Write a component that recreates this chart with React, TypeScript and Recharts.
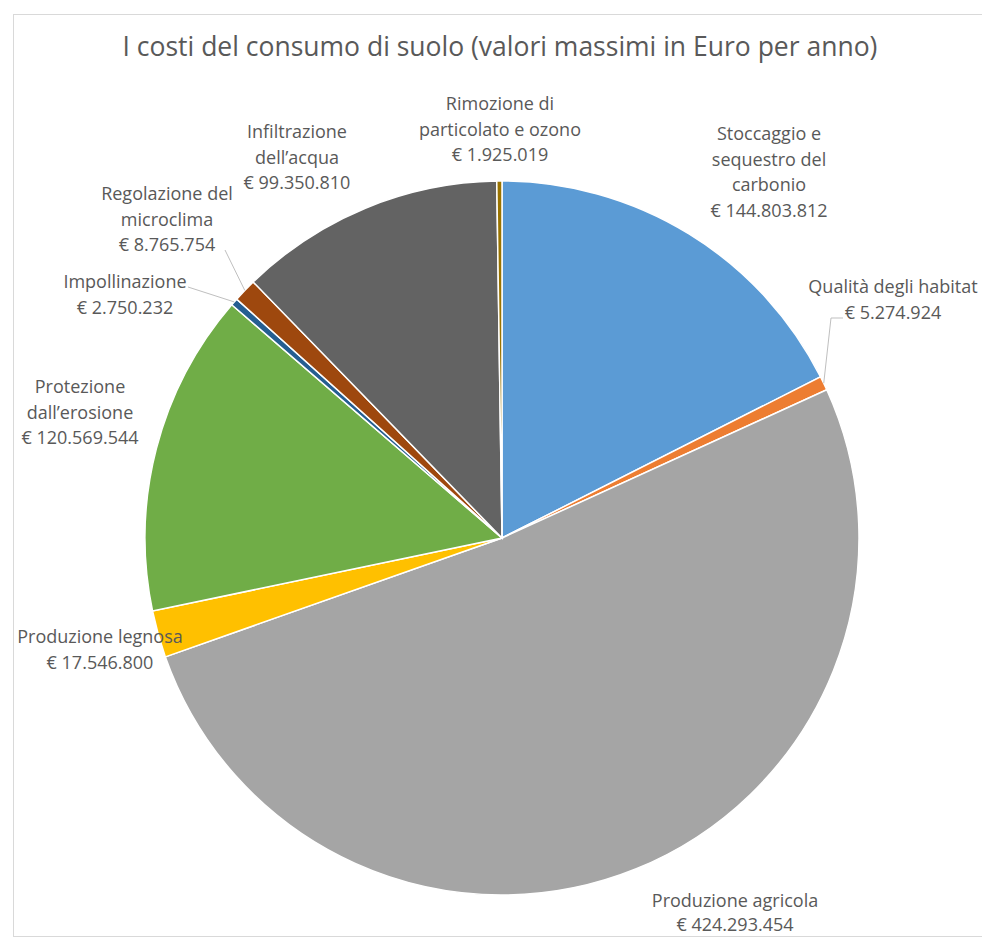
import { Pie, PieChart, Cell } from 'recharts';

const categories = [
  'Stoccaggio e\nsequestro del\ncarbonio',
  'Qualità degli habitat',
  'Produzione agricola',
  'Produzione legnosa',
  'Protezione\ndall’erosione',
  'Impollinazione',
  'Regolazione del\nmicroclima',
  'Infiltrazione\ndell’acqua',
  'Rimozione di\nparticolato e ozono'
];

const values = [
  144803812, 5274924, 424293454, 17546800, 120569544, 2750232, 8765754, 99350810, 1925019
];

const colors = [
  '#5B9BD5',
  '#ED7D31',
  '#A5A5A5',
  '#FFC000',
  '#70AD47',
  '#255E91',
  '#9E480E',
  '#636363',
  '#997300'
];

const title = 'I costi del consumo di suolo (valori massimi in Euro per anno)';

// label placement, relative to the pie centre: first line centre
const labelOffsets = [
  [267, -405],
  [391, -252],
  [233, 362],
  [-402, 98],
  [-422, -152],
  [-377, -257],
  [-335, -345],
  [-205, -407],
  [-2, -435]
];

// leader lines: start point (and optional elbow), relative to centre
const leaders: Record<number, number[][]> = {
  1: [[341, -220], [329, -220]],
  5: [[-314, -251]],
  6: [[-277, -288]]
};

const data = categories.map((name, i) => ({ name, value: values[i] }));

const formatEuro = (v: number) =>
  '€ ' + String(v).replace(/\B(?=(\d{3})+(?!\d))/g, '.');

const RAD = Math.PI / 180;
const FONT = '"Open Sans", Lato, sans-serif';
const TEXT = '#595959';
const LINE_H = 25.5;

const renderLabel = (props: any) => {
  const { cx, cy, midAngle, outerRadius, index } = props;
  const [dx, dy] = labelOffsets[index];
  const lines = [...categories[index].split('\n'), formatEuro(values[index])];
  const x = cx + dx;
  const y = cy + dy;
  const lead = leaders[index];
  const lh = index === 2 ? 23.5 : LINE_H;
  let path: string | null = null;
  if (lead) {
    const ex = cx + Math.cos(-midAngle * RAD) * outerRadius;
    const ey = cy + Math.sin(-midAngle * RAD) * outerRadius;
    path =
      lead.map((p, k) => `${k === 0 ? 'M' : 'L'}${cx + p[0]},${cy + p[1]}`).join(' ') +
      ` L${ex},${ey}`;
  }
  return (
    <g key={`lbl-${index}`}>
      {path && <path d={path} stroke="#bfbfbf" strokeWidth={1} fill="none" />}
      {lines.map((t, k) => (
        <text
          key={k}
          x={x}
          y={y + k * lh}
          textAnchor="middle"
          dominantBaseline="central"
          fill={TEXT}
          fontSize={18}
          fontFamily={FONT}
        >
          {t}
        </text>
      ))}
    </g>
  );
};

export default function App() {
  return (
    <div
      style={{
        position: 'absolute',
        left: 0,
        top: 0,
        width: 982,
        height: 938,
        overflow: 'hidden',
        background: '#fff'
      }}
    >
      <div
        style={{
          position: 'absolute',
          left: 13,
          top: 14,
          width: 990,
          height: 921,
          border: '1px solid #d9d9d9'
        }}
      />
      <div
        style={{
          position: 'absolute',
          left: 0,
          top: 28,
          width: 1000,
          textAlign: 'center',
          fontFamily: FONT,
          fontSize: 26.5,
          color: TEXT,
          lineHeight: '36px'
        }}
      >
        {title}
      </div>
      <div style={{ position: 'absolute', left: 0, top: 0 }}>
        <PieChart width={982} height={938}>
          <Pie
            data={data}
            dataKey="value"
            nameKey="name"
            cx={497}
            cy={533}
            outerRadius={357}
            startAngle={90}
            endAngle={-270}
            stroke="#ffffff"
            strokeWidth={1.5}
            label={renderLabel}
            labelLine={false}
            isAnimationActive={false}
          >
            {data.map((d, i) => (
              <Cell key={d.name} fill={colors[i]} />
            ))}
          </Pie>
        </PieChart>
      </div>
    </div>
  );
}
